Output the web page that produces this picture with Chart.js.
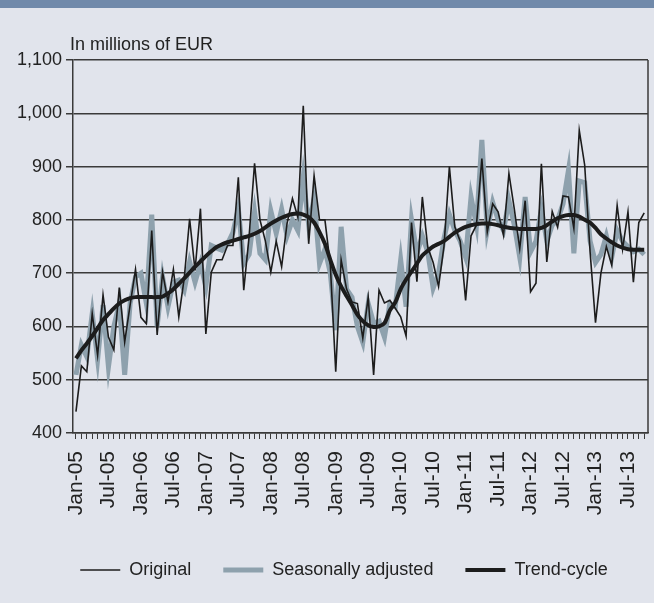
<!DOCTYPE html>
<html>
<head>
<meta charset="utf-8">
<script src="https://cdn.jsdelivr.net/npm/chart.js@4"></script>
<style>
    html, body { margin: 0; padding: 0; background: #e1e4ec; }
    #wrap { width: 654px; height: 603px; position: relative; }
</style>
</head>
<body>
<div id="wrap"><canvas id="salesChart"></canvas></div>
<script>
// Monthly values, Jan-05 .. Oct-13 (in millions of EUR)
var tickLabels = ['Jan-05', 'Jul-05', 'Jan-06', 'Jul-06', 'Jan-07', 'Jul-07', 'Jan-08', 'Jul-08', 'Jan-09',
    'Jul-09', 'Jan-10', 'Jul-10', 'Jan-11', 'Jul-11', 'Jan-12', 'Jul-12', 'Jan-13', 'Jul-13'];

var original = [440, 526, 515, 624, 546, 659, 580, 556, 673, 571, 640, 707, 617, 605, 780, 584, 702, 646,
    707, 618, 690, 802, 705, 821, 586, 702, 725, 725, 752, 752, 880, 668, 770, 906, 800, 760,
    702, 760, 712, 793, 840, 805, 1014, 755, 883, 800, 800, 715, 515, 725, 670, 646, 643, 578,
    655, 509, 668, 644, 649, 634, 618, 582, 795, 684, 843, 749, 720, 675, 750, 900, 787, 760,
    649, 770, 790, 915, 777, 830, 815, 771, 887, 820, 746, 836, 665, 681, 905, 721, 816, 786,
    845, 843, 784, 968, 903, 740, 607, 700, 750, 715, 827, 745, 815, 683, 795, 813];

var seasAdj = [509, 565, 543, 624, 538, 640, 524, 600, 643, 509, 643, 693, 700, 643, 810, 600, 693, 637,
    683, 687, 668, 721, 683, 718, 675, 752, 747, 743, 755, 776, 821, 718, 735, 815, 737, 725,
    817, 775, 820, 770, 800, 780, 880, 790, 840, 718, 745, 700, 593, 787, 670, 655, 600, 570,
    643, 606, 610, 580, 643, 637, 725, 637, 800, 737, 770, 740, 672, 700, 765, 810, 780, 760,
    730, 843, 790, 950, 780, 833, 800, 780, 836, 790, 730, 843, 740, 760, 820, 760, 790, 800,
    830, 893, 737, 873, 870, 760, 720, 735, 770, 730, 780, 760, 750, 740, 745, 735];

var trend = [540, 555, 568, 582, 597, 612, 623, 634, 643, 649, 653, 655, 655, 655, 655, 655, 656, 662,
    670, 680, 690, 701, 712, 722, 732, 741, 749, 754, 758, 761, 764, 767, 770, 774, 779, 786,
    793, 799, 804, 808, 811, 812, 810, 805, 795, 777, 755, 725, 697, 675, 657, 640, 622, 610,
    602, 599, 600, 606, 630, 645, 670, 688, 703, 718, 733, 742, 750, 755, 760, 768, 776, 782,
    787, 790, 792, 793, 793, 792, 790, 787, 785, 784, 783, 783, 783, 783, 785, 790, 797, 803,
    807, 809, 809, 806, 800, 795, 785, 773, 765, 758, 752, 748, 745, 744, 744, 744];

var fontFamily = "'Liberation Sans', Arial, sans-serif";

function toPoints(values) {
    return values.map(function (v, i) { return { x: i, y: v }; });
}

// background, header band, plot frame and unit text
var framePlugin = {
    id: 'frame',
    afterLayout: function (chart) {
        // legend sits a little right of the canvas centre
        if (chart.legend) {
            chart.legend.left += 14;
            chart.legend.right += 14;
        }
    },
    beforeDraw: function (chart) {
        var ctx = chart.ctx;
        ctx.save();
        ctx.fillStyle = '#e1e4ec';
        ctx.fillRect(0, 0, chart.width, chart.height);
        ctx.fillStyle = '#7089aa';
        ctx.fillRect(0, 0, chart.width, 8);
        ctx.restore();
    },
    afterDraw: function (chart) {
        var ctx = chart.ctx, a = chart.chartArea;
        ctx.save();
        ctx.strokeStyle = '#3a3a3a';
        ctx.lineWidth = 1.5;
        ctx.beginPath();
        ctx.moveTo(a.right, a.top);
        ctx.lineTo(a.right, a.bottom);
        ctx.stroke();
        ctx.fillStyle = '#222';
        ctx.font = '18px ' + fontFamily;
        ctx.textBaseline = 'alphabetic';
        ctx.fillText('In millions of EUR', a.left - 3, a.top - 10);
        ctx.restore();
    }
};

var ctx = document.getElementById('salesChart');
new Chart(ctx, {
    type: 'line',
    data: {
        datasets: [{
            label: 'Original',
            data: toPoints(original),
            borderColor: '#1c1c1c',
            borderWidth: 1.6,
            pointRadius: 0,
            pointStyle: 'line',
            tension: 0,
            order: 1
        }, {
            label: 'Seasonally adjusted',
            data: toPoints(seasAdj),
            borderColor: '#8ea1ad',
            borderWidth: 5,
            pointRadius: 0,
            pointStyle: 'line',
            tension: 0,
            order: 2
        }, {
            label: 'Trend-cycle',
            data: toPoints(trend),
            borderColor: '#1c1c1c',
            borderWidth: 4,
            pointRadius: 0,
            pointStyle: 'line',
            tension: 0.3,
            order: 0
        }]
    },
    options: {
        responsive: true,
        maintainAspectRatio: false,
        animation: false,
        layout: { padding: { top: 60, left: 12, right: 6, bottom: 14 } },
        plugins: {
            tooltip: { enabled: false },
            legend: {
                position: 'bottom',
                labels: {
                    usePointStyle: true,
                    pointStyleWidth: 40,
                    color: '#222',
                    padding: 32,
                    font: { family: fontFamily, size: 18 },
                    sort: function (a, b) { return a.datasetIndex - b.datasetIndex; }
                }
            }
        },
        scales: {
            x: {
                type: 'linear',
                min: -0.55,
                max: 105.7,
                grid: { drawOnChartArea: false, tickLength: 6, color: '#3a3a3a', lineWidth: 1 },
                border: { color: '#3a3a3a', width: 1.5 },
                ticks: {
                    stepSize: 1,
                    autoSkip: false,
                    includeBounds: false,
                    minRotation: 90,
                    maxRotation: 90,
                    padding: 12,
                    color: '#222',
                    font: { family: fontFamily, size: 21 },
                    callback: function (v) {
                        return v % 6 === 0 ? tickLabels[v / 6] : '';
                    }
                },
                afterFit: function (scale) {
                    scale.height = 96;
                    scale.paddingLeft = 0;
                    scale.paddingRight = 0;
                }
            },
            y: {
                min: 400,
                max: 1100,
                grid: { color: '#3a3a3a', lineWidth: 1.5, tickLength: 7 },
                border: { color: '#3a3a3a', width: 1.5 },
                ticks: {
                    stepSize: 100,
                    padding: 4,
                    color: '#222',
                    font: { family: fontFamily, size: 18 },
                    callback: function (v) { return v.toLocaleString('en-US'); }
                },
                afterFit: function (scale) {
                    scale.width = 61;
                    scale.paddingTop = 0;
                    scale.paddingBottom = 0;
                }
            }
        }
    },
    plugins: [framePlugin]
});
</script>
</body>
</html>
